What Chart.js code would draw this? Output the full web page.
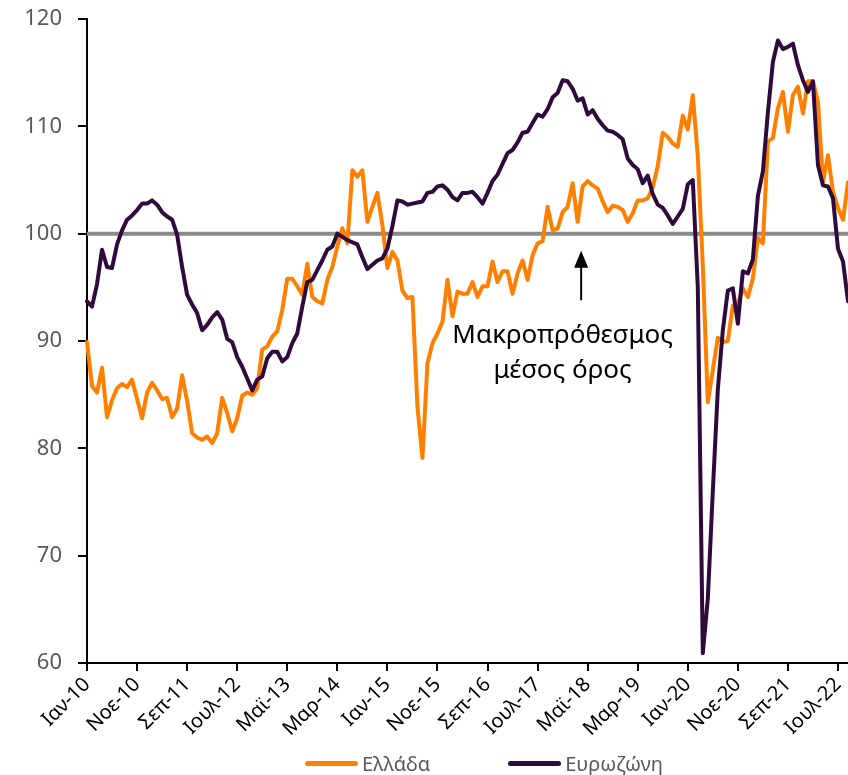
<!DOCTYPE html>
<html lang="el">
<head>
<meta charset="utf-8">
<title>Δείκτης οικονομικού κλίματος</title>
<script src="https://cdn.jsdelivr.net/npm/chart.js@4.4.1/dist/chart.umd.min.js"></script>
<style>
  html, body { margin: 0; padding: 0; background: #fff; }
  #wrap { position: relative; width: 848px; height: 775px; overflow: hidden; }
  #chart { position: absolute; left: 0; top: 0; }
  #legend {
    position: absolute; left: 305px; top: 750px; height: 26px;
    display: flex; align-items: center;
    font-family: "Noto Sans", sans-serif; font-size: 20px; color: #595959;
  }
  #legend .item { display: flex; align-items: center; margin-right: 78px; }
  #legend .swatch { width: 53px; height: 5px; border-radius: 3px; margin-right: 4px; }
</style>
</head>
<body>
<div id="wrap">
  <canvas id="chart" width="848" height="775"></canvas>
  <div id="legend"></div>
</div>
<script>
// Monthly categories, Jan 2010 – Sep 2022
const MONTHS = ['Ιαν', 'Φεβ', 'Μαρ', 'Απρ', 'Μαϊ', 'Ιουν', 'Ιουλ', 'Αυγ', 'Σεπ', 'Οκτ', 'Νοε', 'Δεκ'];
const FIRST_YEAR = 2010;
const MONTH_COUNT = 153;
const TICK_EVERY = 10;

// Y axis
const Y_MIN = 60;
const Y_MAX = 120;
const Y_STEP = 10;
const LONG_TERM_AVERAGE = 100;

// Economic sentiment, Greece
const greece = [
  89.9, 85.8, 85.2, 87.5, 82.9, 84.5, 85.6, 86.0, 85.7, 86.4, 84.6, 82.8,
  85.2, 86.1, 85.4, 84.6, 84.7, 82.9, 83.7, 86.8, 84.4, 81.4, 81.0, 80.8,
  81.1, 80.5, 81.4, 84.7, 83.3, 81.6, 82.8, 84.9, 85.2, 85.0, 85.6, 89.2,
  89.5, 90.4, 90.9, 92.9, 95.8, 95.8, 95.1, 94.3, 97.2, 94.1, 93.7, 93.5,
  95.7, 96.9, 98.8, 100.5, 99.1, 105.9, 105.3, 105.9, 101.1, 102.5, 103.8, 100.8,
  96.8, 98.3, 97.5, 94.7, 94.0, 94.1, 83.9, 79.1, 87.9, 89.8, 90.7, 91.8,
  95.7, 92.3, 94.6, 94.4, 94.4, 95.5, 94.1, 95.1, 95.1, 97.4, 95.5, 96.5,
  96.5, 94.4, 96.3, 97.5, 95.7, 98.0, 99.1, 99.3, 102.5, 100.3, 100.5, 102.0,
  102.5, 104.7, 101.1, 104.4, 104.9, 104.5, 104.2, 103.0, 102.0, 102.6, 102.5, 102.2,
  101.1, 101.9, 103.1, 103.1, 103.3, 104.3, 106.3, 109.4, 109.0, 108.4, 108.1, 111.0,
  109.7, 112.9, 107.2, 97.0, 84.3, 87.3, 90.3, 89.9, 90.0, 93.3, 93.5, 94.9,
  94.1, 95.8, 99.6, 99.1, 108.6, 108.9, 111.7, 113.2, 109.5, 112.9, 113.7, 111.2,
  114.2, 114.2, 112.3, 104.8, 107.3, 103.9, 102.4, 101.3, 104.8
];

// Economic sentiment, euro area
const eurozone = [
  93.7, 93.2, 95.3, 98.5, 96.9, 96.8, 99.0, 100.3, 101.3, 101.7, 102.2, 102.8,
  102.8, 103.1, 102.7, 102.0, 101.6, 101.3, 99.9, 96.9, 94.3, 93.4, 92.6, 91.0,
  91.5, 92.2, 92.7, 92.0, 90.2, 89.9, 88.5, 87.6, 86.5, 85.4, 86.4, 86.7,
  88.4, 89.0, 89.0, 88.1, 88.5, 89.8, 90.7, 93.2, 95.5, 95.7, 96.6, 97.5,
  98.5, 98.8, 100.0, 99.7, 99.4, 99.2, 99.0, 97.8, 96.7, 97.1, 97.5, 97.7,
  98.6, 100.7, 103.1, 103.0, 102.7, 102.8, 102.9, 103.0, 103.8, 103.9, 104.4, 104.5,
  104.1, 103.4, 103.1, 103.8, 103.8, 103.9, 103.4, 102.8, 103.8, 104.9, 105.5, 106.5,
  107.5, 107.8, 108.5, 109.4, 109.5, 110.3, 111.1, 110.9, 111.6, 112.7, 113.1, 114.3,
  114.2, 113.5, 112.4, 112.6, 111.1, 111.5, 110.7, 110.1, 109.6, 109.5, 109.2, 108.8,
  107.0, 106.4, 106.0, 104.7, 105.4, 103.7, 102.7, 102.4, 101.7, 100.9, 101.6, 102.3,
  104.6, 105.0, 95.0, 60.9, 66.0, 76.0, 85.5, 91.0, 94.7, 94.9, 91.6, 96.5,
  96.3, 97.6, 103.5, 105.8, 111.3, 116.0, 118.0, 117.2, 117.4, 117.7, 115.7, 114.3,
  113.2, 114.2, 106.4, 104.5, 104.4, 103.3, 98.6, 97.4, 93.7
];

const SERIES_NAMES = ['Ελλάδα', 'Ευρωζώνη'];
const SERIES_COLORS = ['#FF8000', '#2F0A3C'];
const AVERAGE_COLOR = '#898989';

// Note for the long-term average line
const NOTE_LINES = ['Μακροπρόθεσμος', 'μέσος όρος'];
const NOTE_TEXT_INDEX = 95.0;   // horizontal centre of the note, in months
const NOTE_TEXT_VALUE = 90.5;   // vertical centre of first line, in index points
const ARROW_INDEX = 98.7;
const ARROW_FROM = 93.8;
const ARROW_TO = 98.4;

const labels = [];
for (let i = 0; i < MONTH_COUNT; i++) {
  const y = FIRST_YEAR + Math.floor(i / 12);
  labels.push(MONTHS[i % 12] + '-' + String(y).slice(2));
}

const FONT = '"Noto Sans", sans-serif';

const averageLine = {
  id: 'averageLine',
  beforeDatasetsDraw(chart) {
    const { ctx, chartArea, scales } = chart;
    const py = scales.y.getPixelForValue(LONG_TERM_AVERAGE);
    ctx.save();
    ctx.strokeStyle = AVERAGE_COLOR;
    ctx.lineWidth = 4;
    ctx.beginPath();
    ctx.moveTo(chartArea.left, py);
    ctx.lineTo(chartArea.right, py);
    ctx.stroke();
    ctx.restore();
  },
  afterDatasetsDraw(chart) {
    const { ctx, scales } = chart;
    const { x, y } = scales;
    ctx.save();
    // arrow pointing at the average line
    const ax = x.getPixelForValue(ARROW_INDEX);
    const y0 = y.getPixelForValue(ARROW_FROM);
    const y1 = y.getPixelForValue(ARROW_TO);
    ctx.strokeStyle = '#000';
    ctx.fillStyle = '#000';
    ctx.lineWidth = 2;
    ctx.beginPath();
    ctx.moveTo(ax, y0);
    ctx.lineTo(ax, y1 + 14);
    ctx.stroke();
    ctx.beginPath();
    ctx.moveTo(ax, y1);
    ctx.lineTo(ax - 7, y1 + 17);
    ctx.lineTo(ax + 7, y1 + 17);
    ctx.closePath();
    ctx.fill();
    // note text
    ctx.font = '26px ' + FONT;
    ctx.textAlign = 'center';
    ctx.textBaseline = 'middle';
    const tx = x.getPixelForValue(NOTE_TEXT_INDEX);
    const ty = y.getPixelForValue(NOTE_TEXT_VALUE);
    NOTE_LINES.forEach((line, k) => ctx.fillText(line, tx, ty + k * 35));
    ctx.restore();
  }
};

const chart = new Chart(document.getElementById('chart'), {
  type: 'line',
  data: {
    labels,
    datasets: [
      {
        label: SERIES_NAMES[0], data: greece,
        borderColor: SERIES_COLORS[0], backgroundColor: SERIES_COLORS[0],
        borderWidth: 4, pointRadius: 0, tension: 0, order: 2,
        borderJoinStyle: 'round', borderCapStyle: 'round'
      },
      {
        label: SERIES_NAMES[1], data: eurozone,
        borderColor: SERIES_COLORS[1], backgroundColor: SERIES_COLORS[1],
        borderWidth: 4, pointRadius: 0, tension: 0, order: 1,
        borderJoinStyle: 'round', borderCapStyle: 'round'
      }
    ]
  },
  options: {
    responsive: false,
    animation: false,
    devicePixelRatio: 1,
    layout: { padding: { top: 19, right: 0, bottom: 0, left: 0 } },
    plugins: { legend: { display: false }, tooltip: { enabled: false } },
    scales: {
      x: {
        type: 'category',
        offset: false,
        ticks: {
          autoSkip: false, maxRotation: 45, minRotation: 45,
          color: '#000', font: { family: FONT, size: 20 }, padding: 2,
          callback(value, index) {
            return index % TICK_EVERY === 0 ? this.getLabelForValue(value) : null;
          }
        },
        grid: { drawOnChartArea: false, tickLength: 8, tickColor: '#000', tickWidth: 2, lineWidth: 2, color: '#000' },
        border: { color: '#000', width: 2 },
        afterFit(scale) {
          scale.height = 112;
          scale.paddingLeft = 0;
          scale.paddingRight = 0;
        }
      },
      y: {
        min: Y_MIN, max: Y_MAX,
        ticks: { stepSize: Y_STEP, color: '#595959', font: { family: FONT, size: 22 }, padding: 16 },
        grid: { drawOnChartArea: false, tickLength: 9, tickColor: '#000', tickWidth: 2, lineWidth: 2, color: '#000' },
        border: { color: '#000', width: 2 },
        afterFit(scale) {
          scale.width = 87;
          scale.paddingTop = 0;
          scale.paddingBottom = 0;
        }
      }
    }
  },
  plugins: [averageLine]
});

// legend built from the datasets
const legend = document.getElementById('legend');
chart.data.datasets.forEach(ds => {
  const item = document.createElement('div');
  item.className = 'item';
  const sw = document.createElement('span');
  sw.className = 'swatch';
  sw.style.background = ds.borderColor;
  const tx = document.createElement('span');
  tx.textContent = ds.label;
  item.appendChild(sw);
  item.appendChild(tx);
  legend.appendChild(item);
});
</script>
</body>
</html>
